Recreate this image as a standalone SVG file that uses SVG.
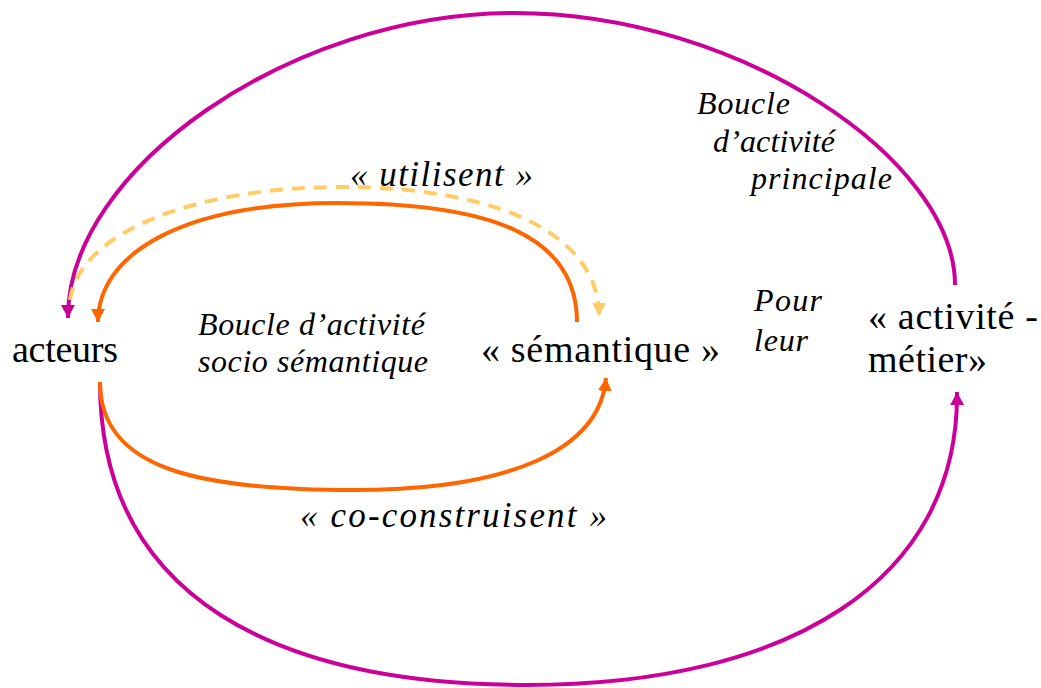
<svg xmlns="http://www.w3.org/2000/svg" width="1041" height="688" viewBox="0 0 1041 688">
<style>
text{font-family:'Liberation Serif','Times New Roman',serif;fill:#000}
.main{font-size:38px}
.it{font-size:32px;font-style:italic}
.big{font-size:35px;font-style:italic}
.mag{fill:none;stroke:#CC0099;stroke-width:4}
.org{fill:none;stroke:#FF6600;stroke-width:4}
.dash{fill:none;stroke:#FFCC66;stroke-width:4;stroke-dasharray:13 9}
</style>
<defs>
<marker id="aMag" markerUnits="userSpaceOnUse" markerWidth="16" markerHeight="16" refX="13" refY="7" orient="auto"><path d="M0,0 L13,7 L0,14 Z" fill="#CC0099"/></marker>
<marker id="aOrg" markerUnits="userSpaceOnUse" markerWidth="16" markerHeight="16" refX="13" refY="7" orient="auto"><path d="M0,0 L13,7 L0,14 Z" fill="#FF6600"/></marker>
<marker id="aDash" markerUnits="userSpaceOnUse" markerWidth="16" markerHeight="16" refX="13" refY="7" orient="auto"><path d="M0,0 L13,7 L0,14 Z" fill="#FFCC66"/></marker>
</defs>
<g id="connectors">
<path class="mag" d="M 955 285 C 955 160 740 13 514 13 C 290 13 67 170 68 318" marker-end="url(#aMag)"/>
<path class="mag" d="M 100 382 C 100 600 280 685 527 685 C 790 685 959 580 957 392" marker-end="url(#aMag)"/>
<path class="org" d="M 577 322 C 577 235 490 203 338 203 C 180 203 98 255 98 322" marker-end="url(#aOrg)"/>
<path class="org" d="M 100 382 C 100 470 200 490 354 490 C 510 490 600 450 606 378" marker-end="url(#aOrg)"/>
<path class="dash" d="M 70 300 C 80 230 200 187 341 187 C 500 187 599 235 599 316" marker-end="url(#aDash)"/>
</g>
<g id="acteurs"><text class="main" x="12" y="362" textLength="106">acteurs</text></g>
<g id="semantique"><text class="main" x="481" y="362" textLength="239">« sémantique »</text></g>
<g id="activite-metier"><text class="main" x="868" y="329" textLength="170">« activité -</text><text class="main" x="868" y="372" textLength="119">métier»</text></g>
<g id="label-socio"><text class="it" x="198" y="335" textLength="227">Boucle d’activité</text><text class="it" x="198" y="372" textLength="230">socio sémantique</text></g>
<g id="label-utilisent"><text class="big" x="350" y="186" textLength="183">« utilisent »</text></g>
<g id="label-coconstruisent"><text class="big" x="300" y="527" textLength="307">« co-construisent »</text></g>
<g id="label-principale"><text class="it" x="697" y="114" textLength="93">Boucle</text><text class="it" x="713" y="152" textLength="122">d’activité</text><text class="it" x="751" y="189" textLength="141">principale</text></g>
<g id="label-pour"><text class="it" x="754" y="311" textLength="68">Pour</text><text class="it" x="754" y="351" textLength="54">leur</text></g>
</svg>
